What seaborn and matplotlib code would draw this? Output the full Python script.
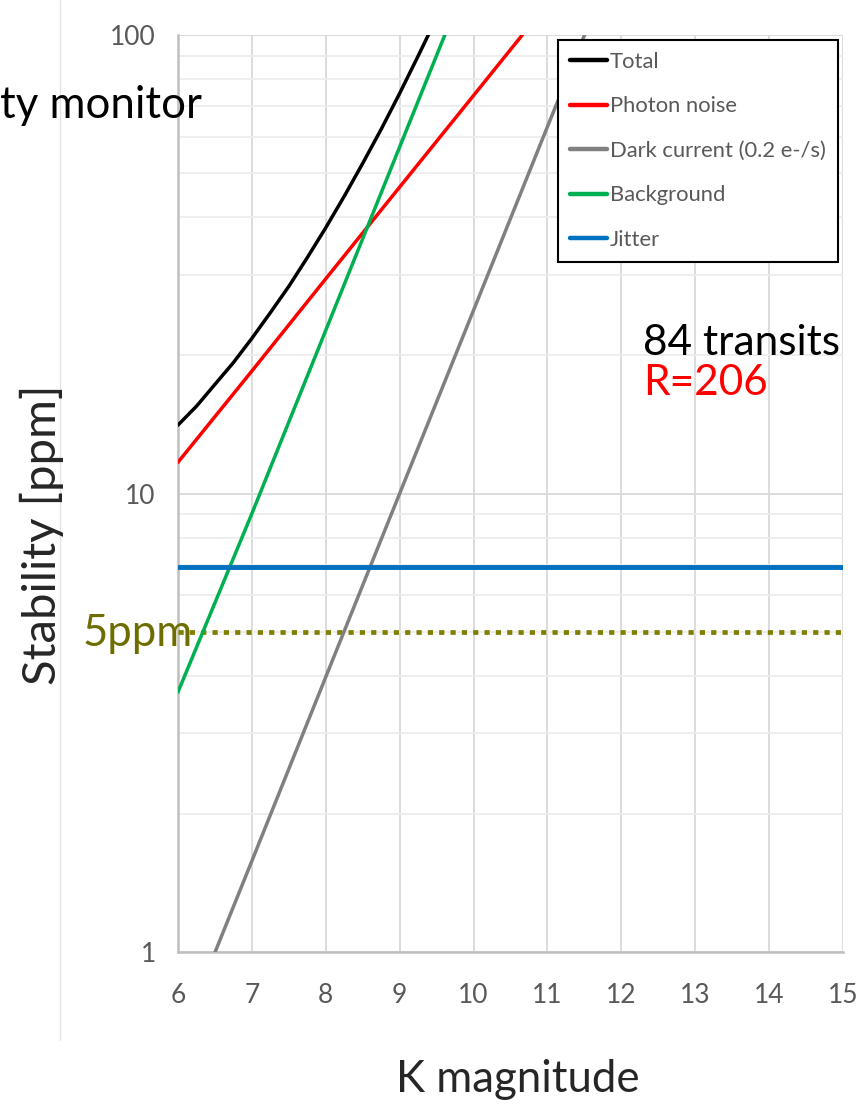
import numpy as np
import pandas as pd
import matplotlib
matplotlib.use("Agg")
import matplotlib.pyplot as plt
from matplotlib.lines import Line2D
from matplotlib.ticker import LogLocator, FixedLocator, NullFormatter
import seaborn as sns

# ---- data (stability in ppm versus K magnitude) ----
k_total = [6.0, 6.25, 6.5, 6.75, 7.0, 7.25, 7.5, 7.75, 8.0, 8.25, 8.5, 8.75,
           9.0, 9.25, 9.5]
total = [14.1, 15.5, 17.3, 19.3, 21.8, 24.8, 28.3, 32.7, 38.0, 44.5, 52.5,
         62.3, 74.6, 90.0, 109.0]

k_photon = [6, 7, 8, 9, 10, 11]
photon = [11.7, 18.5, 29.4, 46.6, 73.8, 117.0]

k_dark = [6, 7, 8, 9, 10, 11, 12]
dark = [0.63, 1.58, 3.98, 10.0, 25.1, 63.1, 158.0]

k_background = [6, 7, 8, 9, 10]
background = [3.69, 9.04, 22.7, 57.0, 143.0]

k_flat = [6, 15]
jitter = [6.9, 6.9]
requirement = [5.0, 5.0]

x_ticks = [6, 7, 8, 9, 10, 11, 12, 13, 14, 15]
y_ticks = [1, 10, 100]
y_tick_labels = ["1", "10", "100"]

series = [
    ("Total", k_total, total, "#000000", 2.5),
    ("Photon noise", k_photon, photon, "#FF0000", 2.5),
    ("Dark current (0.2 e-/s)", k_dark, dark, "#808080", 2.5),
    ("Background", k_background, background, "#00B050", 2.5),
    ("Jitter", k_flat, jitter, "#0070C0", 3.5),
]

sns.set_style("white")
main_font = ["Lato", "DejaVu Sans"]
plt.rcParams["font.family"] = main_font

fig = plt.figure(figsize=(8.58, 11.07), dpi=100)
ax = fig.add_axes([178 / 858, 1 - 952 / 1107, 665 / 858, 917 / 1107])

for label, kx, vals, color, lw in series:
    df = pd.DataFrame({"K": kx, "ppm": vals})
    sns.lineplot(data=df, x="K", y="ppm", ax=ax, color=color, linewidth=lw,
                 label=label, zorder=4)

req_df = pd.DataFrame({"K": k_flat, "ppm": requirement})
sns.lineplot(data=req_df, x="K", y="ppm", ax=ax, color="#7F7F00",
             linewidth=3.4, linestyle=(0, (1.1, 1.3)), zorder=3,
             legend=False)

ax.set_yscale("log")
ax.set_xlim(6, 15)
ax.set_ylim(1, 100)

ax.xaxis.set_major_locator(FixedLocator(x_ticks))
ax.set_xticks(x_ticks)
ax.set_xticklabels([str(t) for t in x_ticks])
ax.set_yticks(y_ticks)
ax.set_yticklabels(y_tick_labels)
ax.yaxis.set_minor_locator(LogLocator(base=10, subs=np.arange(2, 10)))
ax.yaxis.set_minor_formatter(NullFormatter())

ax.grid(True, which="major", axis="both", color="#D9D9D9", linewidth=1.3, zorder=0)
ax.grid(True, which="minor", axis="y", color="#EDEDED", linewidth=1.3, zorder=0)
ax.set_axisbelow(True)

for side in ["top", "right"]:
    ax.spines[side].set_visible(False)
for side in ["left", "bottom"]:
    ax.spines[side].set_color("#BFBFBF")
    ax.spines[side].set_linewidth(1.8)

ax.tick_params(axis="both", which="both", length=0, colors="#595959")
ax.tick_params(axis="y", pad=16)
ax.tick_params(axis="x", pad=22)
for lbl in ax.get_xticklabels() + ax.get_yticklabels():
    lbl.set_fontsize(19)
    lbl.set_color("#595959")

ax.set_xlabel("")
ax.set_ylabel("")

leg = ax.legend(loc="upper left", bbox_to_anchor=(0.571, 0.995),
                borderaxespad=0, frameon=True, fancybox=False,
                edgecolor="#000000", framealpha=1, handlelength=1.7,
                handletextpad=0.12, labelspacing=1.12, borderpad=0.55,
                prop={"size": 15.8})
leg.get_frame().set_linewidth(1.5)
for txt in leg.get_texts():
    txt.set_color("#595959")
for h in leg.get_lines():
    h.set_linewidth(3.2)
leg.set_zorder(6)

ax.text(0.699, (952 - 343) / 917, "84 transits", transform=ax.transAxes,
        fontsize=30.5, color="#000000", ha="left", va="center", zorder=7)
ax.text(0.699, (952 - 383) / 917, "R=206", transform=ax.transAxes,
        fontsize=30.5, color="#FF0000", ha="left", va="center", zorder=7)

fig.text(193 / 858, 1 - 633 / 1107, "5ppm", fontsize=31.5, color="#6E6E00",
         ha="right", va="center", zorder=8)
fig.text(0.0, 1 - 105 / 1107, "ty monitor", fontsize=31.5, color="#000000",
         ha="left", va="center")
fig.text(42 / 858, 1 - 535 / 1107, "Stability [ppm]", fontsize=34,
         rotation=90, ha="center", va="center")
fig.text(518 / 858, 1 - 1080 / 1107, "K magnitude", fontsize=31.5,
         ha="center", va="center")

# thin frame edge at the left of the slide
fig.add_artist(Line2D([60 / 858, 60 / 858], [1 - 1040 / 1107, 1.0],
                      transform=fig.transFigure, color="#E3E3E3", linewidth=1.0))

fig.savefig("out.png", dpi=100)
